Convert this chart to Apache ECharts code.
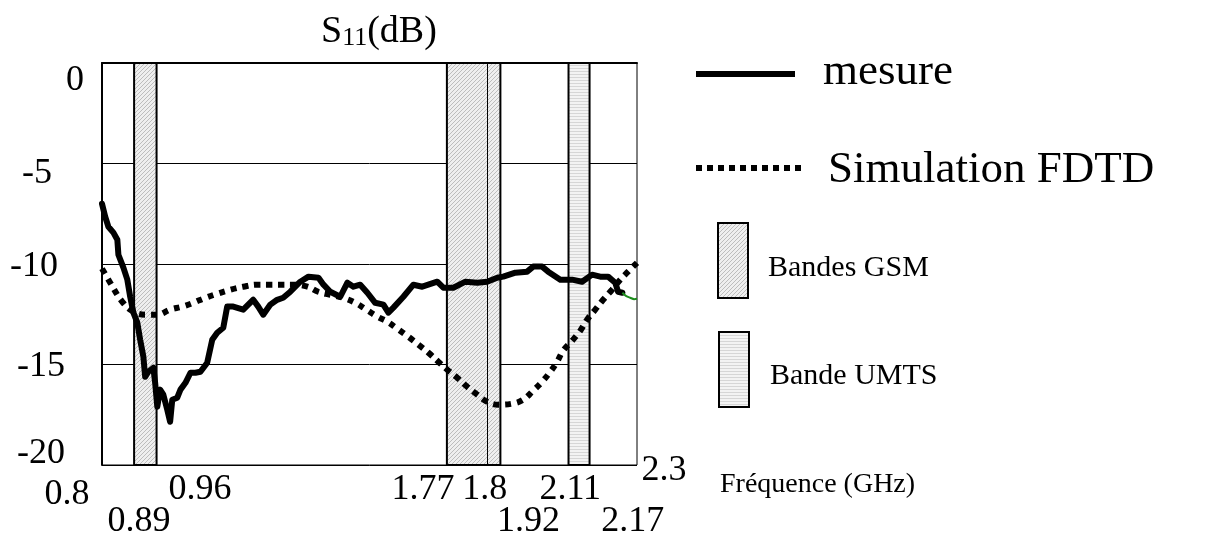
<!DOCTYPE html>
<html><head><meta charset="utf-8">
<script src="https://cdn.jsdelivr.net/npm/echarts@6/dist/echarts.min.js"></script>
<style>html,body{margin:0;padding:0;background:#fff}#main{width:1220px;height:543px}</style>
</head><body><div id="main"></div>
<script>
// ---- data ----
const measFreq = [0.800,0.809,0.818,0.832,0.843,0.846,0.860,0.871,0.879,0.888,0.899,0.907,0.916,0.921,0.930,0.944,0.949,0.955,0.963,0.972,0.983,0.991,0.997,1.011,1.020,1.034,1.048,1.062,1.076,1.095,1.109,1.123,1.140,1.151,1.168,1.196,1.210,1.224,1.238,1.252,1.272,1.291,1.308,1.328,1.356,1.379,1.407,1.421,1.440,1.468,1.488,1.505,1.524,1.544,1.566,1.589,1.603,1.617,1.645,1.673,1.698,1.740,1.757,1.785,1.819,1.852,1.880,1.908,1.925,1.959,1.992,2.009,2.034,2.051,2.085,2.118,2.146,2.174,2.197,2.219,2.239,2.247,2.259];
const measS11 = [-7.00,-7.65,-8.15,-8.44,-8.79,-9.54,-10.18,-10.78,-11.63,-12.42,-12.92,-13.77,-14.61,-15.61,-15.36,-15.16,-15.91,-17.10,-16.25,-16.50,-17.25,-17.85,-16.75,-16.65,-16.25,-15.91,-15.41,-15.41,-15.36,-14.91,-13.77,-13.42,-13.17,-12.12,-12.12,-12.27,-12.02,-11.78,-12.12,-12.52,-12.02,-11.78,-11.68,-11.38,-10.88,-10.63,-10.68,-11.03,-11.38,-11.63,-10.93,-11.13,-11.03,-11.43,-11.93,-12.02,-12.42,-12.17,-11.63,-11.03,-11.13,-10.88,-11.18,-11.18,-10.88,-10.93,-10.88,-10.68,-10.63,-10.43,-10.38,-10.13,-10.13,-10.38,-10.78,-10.78,-10.88,-10.53,-10.63,-10.63,-10.93,-11.38,-11.43];
const tailFreq = [2.259,2.270,2.281,2.292,2.300];
const tailS11 = [-11.43,-11.60,-11.68,-11.75,-11.73];
const simFreq = [0.800,0.823,0.857,0.888,0.921,0.955,0.991,1.025,1.056,1.090,1.123,1.160,1.196,1.235,1.272,1.300,1.336,1.376,1.406,1.440,1.476,1.510,1.541,1.572,1.600,1.628,1.659,1.687,1.715,1.743,1.768,1.796,1.824,1.852,1.880,1.911,1.950,1.981,2.009,2.034,2.057,2.076,2.093,2.118,2.141,2.160,2.183,2.205,2.230,2.253,2.275,2.300];
const simS11 = [-10.23,-10.93,-11.88,-12.37,-12.52,-12.52,-12.27,-12.12,-11.93,-11.68,-11.48,-11.28,-11.13,-11.03,-11.03,-11.03,-11.03,-11.13,-11.38,-11.53,-11.68,-11.93,-12.27,-12.62,-12.87,-13.22,-13.62,-14.01,-14.41,-14.86,-15.26,-15.66,-16.11,-16.50,-16.85,-17.00,-16.95,-16.75,-16.30,-15.86,-15.36,-14.86,-14.31,-13.82,-13.32,-12.77,-12.27,-11.78,-11.28,-10.78,-10.38,-9.94];
const gsmBands = [[0.890,0.953],[1.767,1.917]];
const gsmInnerEdge = [1.879];
const umtsBands = [[2.108,2.167]];
const xTickValues = [0.8,0.89,0.96,1.77,1.8,1.92,2.11,2.17,2.3];
const xTickLabels = ['0.8','0.89','0.96','1.77','1.8','1.92','2.11','2.17','2.3'];
const yTickValues = [0,-5,-10,-15,-20];
const yTickLabels = ['0','-5','-10','-15','-20'];
const seriesNames = ['mesure','Simulation FDTD'];
const bandNames = ['Bandes GSM','Bande UMTS'];
const titleText = {main:'S', sub:'11', unit:'(dB)'};
const xAxisTitle = 'Fréquence (GHz)';

// ---- layout (pixel offsets of the hand-placed tick labels) ----
const xLabelOffset = [[-35,30],[5,57],[41,25],[-25,25],[26,25],[27,57],[1,25],[42,57],[27,6]];
const yLabelOffset = [[-27,18],[-65,10],[-68,3],[-61,2],[-61,-11]];

const FONT = "'Liberation Serif','Times New Roman',serif";

function hatchPattern(){
  const c=document.createElement('canvas'); c.width=4; c.height=4;
  const g=c.getContext('2d'); g.fillStyle='#efefef'; g.fillRect(0,0,4,4);
  g.fillStyle='#bdbdbd'; for(let i=0;i<4;i++) g.fillRect(i,3-i,1,1);
  return c;
}
function stripePattern(){
  const c=document.createElement('canvas'); c.width=3; c.height=3;
  const g=c.getContext('2d'); g.fillStyle='#f3f3f3'; g.fillRect(0,0,3,3);
  g.fillStyle='#d6d6d6'; g.fillRect(0,2,3,1);
  return c;
}
const hatch = {image: hatchPattern(), repeat:'repeat'};
const stripes = {image: stripePattern(), repeat:'repeat'};

const chart = echarts.init(document.getElementById('main'), null, {renderer:'canvas'});

const areaData = [];
gsmBands.forEach(b=>areaData.push([{xAxis:b[0], yAxis:0, itemStyle:{color:hatch,borderColor:'#000',borderWidth:2}},{xAxis:b[1], yAxis:-20}]));
umtsBands.forEach(b=>areaData.push([{xAxis:b[0], yAxis:0, itemStyle:{color:stripes,borderColor:'#000',borderWidth:2}},{xAxis:b[1], yAxis:-20}]));

chart.setOption({
  animation:false,
  backgroundColor:'#fff',
  title:{
    text:'{a|'+titleText.main+'}{b|'+titleText.sub+'}{a|'+titleText.unit+'}',
    left:316, top:2,
    textStyle:{fontWeight:'normal', rich:{
      a:{fontFamily:FONT,fontSize:38,fontWeight:'normal',color:'#000',lineHeight:44,verticalAlign:'bottom'},
      b:{fontFamily:FONT,fontSize:26,fontWeight:'normal',color:'#000',lineHeight:30,verticalAlign:'bottom'}
    }}
  },
  grid:{left:102, top:63, width:535, height:402, show:true, borderColor:'#000', borderWidth:1},
  xAxis:{type:'value', min:0.8, max:2.3, axisLine:{lineStyle:{color:'#000',width:2}},
    axisTick:{show:false}, axisLabel:{show:false}, splitLine:{show:false}},
  yAxis:{type:'value', min:-20, max:0, interval:5, axisLine:{show:true,lineStyle:{color:'#000',width:2}},
    axisTick:{show:false}, axisLabel:{show:false}, splitLine:{show:true,lineStyle:{color:'#000',width:1}}},
  series:[
    {name:'bands', type:'line', data:[], z:-1, silent:true,
      markArea:{silent:true, data:areaData},
      markLine:{silent:true, symbol:'none', label:{show:false},
        lineStyle:{color:'#000',width:1,type:'solid'},
        data:gsmInnerEdge.map(v=>({xAxis:v}))}},
    {name:seriesNames[1], type:'line', data:simFreq.map((f,i)=>[f,simS11[i]]), smooth:0.4,
      showSymbol:false, symbol:'none', z:3,
      lineStyle:{color:'#000', width:6, type:[6,6], cap:'butt'}, itemStyle:{color:'#000'}},
    {name:seriesNames[0], type:'line', data:measFreq.map((f,i)=>[f,measS11[i]]), smooth:false,
      showSymbol:false, symbol:'none', z:4,
      lineStyle:{color:'#000', width:6, join:'round', cap:'round'}, itemStyle:{color:'#000'}},
    {name:'tail', type:'line', data:tailFreq.map((f,i)=>[f,tailS11[i]]), smooth:0.3,
      showSymbol:false, symbol:'none', z:4, lineStyle:{color:'#1c8c1c', width:2}}
  ]
});

const graphics = [];
xTickValues.forEach((v,i)=>{
  const p = chart.convertToPixel({xAxisIndex:0,yAxisIndex:0},[v,-20]);
  graphics.push({type:'text', x:p[0]+xLabelOffset[i][0], y:p[1]+xLabelOffset[i][1],
    style:{text:xTickLabels[i], font:'36px '+FONT, fill:'#000', align:'center', verticalAlign:'middle'}});
});
yTickValues.forEach((v,i)=>{
  const p = chart.convertToPixel({xAxisIndex:0,yAxisIndex:0},[0.8,v]);
  graphics.push({type:'text', x:p[0]+yLabelOffset[i][0], y:p[1]+yLabelOffset[i][1],
    style:{text:yTickLabels[i], font:'36px '+FONT, fill:'#000', align:'center', verticalAlign:'middle'}});
});
graphics.push({type:'text', x:720, y:485, style:{text:xAxisTitle, font:'28px '+FONT, fill:'#000', align:'left', verticalAlign:'middle'}});
// line legend
graphics.push({type:'line', shape:{x1:696,y1:74,x2:795,y2:74}, style:{stroke:'#000', lineWidth:6}});
graphics.push({type:'text', x:823, y:72, style:{text:seriesNames[0], font:'45px '+FONT, fill:'#000', align:'left', verticalAlign:'middle'}});
graphics.push({type:'line', shape:{x1:696,y1:168,x2:804,y2:168}, style:{stroke:'#000', lineWidth:6, lineDash:[6,5]}});
graphics.push({type:'text', x:828, y:170, style:{text:seriesNames[1], font:'45px '+FONT, fill:'#000', align:'left', verticalAlign:'middle'}});
// band legend
graphics.push({type:'rect', shape:{x:718,y:223,width:30,height:75}, style:{fill:hatch, stroke:'#000', lineWidth:2}});
graphics.push({type:'text', x:768, y:268, style:{text:bandNames[0], font:'30px '+FONT, fill:'#000', align:'left', verticalAlign:'middle'}});
graphics.push({type:'rect', shape:{x:719,y:332,width:30,height:75}, style:{fill:stripes, stroke:'#000', lineWidth:2}});
graphics.push({type:'text', x:770, y:376, style:{text:bandNames[1], font:'30px '+FONT, fill:'#000', align:'left', verticalAlign:'middle'}});
chart.setOption({graphic:graphics});
</script></body></html>
